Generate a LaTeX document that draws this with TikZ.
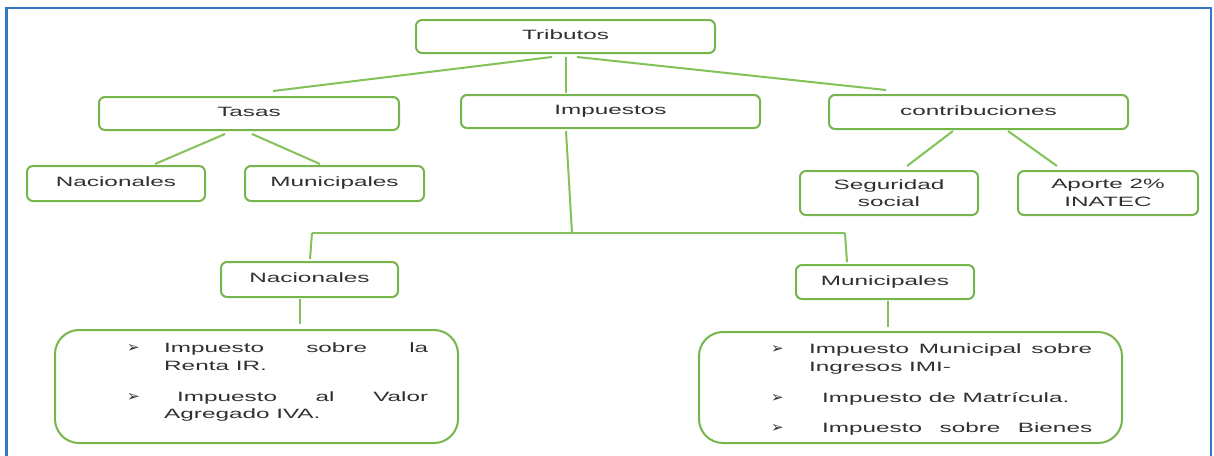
\documentclass[tikz,border=0pt]{standalone}
\usepackage{fontspec}
\newfontfamily\widesans[FakeStretch=1.8]{Liberation Sans}
\newfontfamily\dejavu{DejaVu Sans}
\usetikzlibrary{calc}
\definecolor{boxgreen}{RGB}{118,180,76}
\definecolor{linegreen}{RGB}{130,194,88}
\definecolor{frameblue}{RGB}{52,120,196}
\definecolor{txt}{RGB}{48,48,48}
\newcommand{\bul}{{\dejavu\fontsize{15}{15}\selectfont ➢}}
\begin{document}
\begin{tikzpicture}[x=1pt,y=-1pt,
  every node/.style={inner sep=0pt},
  tbox/.style={draw=boxgreen, line width=2pt, rounded corners=6pt, fill=white, text=txt,
    font=\widesans\fontsize{13.5}{17.5}\selectfont, align=center},
  onel/.style={text height=10pt, text depth=4pt},
  bigbox/.style={draw=boxgreen, line width=2pt, rounded corners=24pt},
  listtxt/.style={text=txt, font=\widesans\fontsize{13.5}{17.5}\selectfont, align=left},
  conn/.style={draw=linegreen, line width=2pt},
  frameline/.style={draw=frameblue, line width=2.5pt}]
\useasboundingbox (0,0) rectangle (1214,455);
\draw[frameline] (6.5,456) -- (6.5,8) -- (1211,8) -- (1211,456);

% top level
\node[tbox, onel, minimum width=299pt, minimum height=33pt] (trib) at (565.5,36.5) {Tributos};
\node[tbox, onel, minimum width=300pt, minimum height=33pt] (tasas) at (249,113.5) {Tasas};
\node[tbox, onel, minimum width=299pt, minimum height=33pt] (imp) at (610.5,111.5) {Impuestos};
\node[tbox, onel, minimum width=299pt, minimum height=34pt] (contrib) at (978.5,112) {contribuciones};

% second level
\node[tbox, onel, minimum width=178pt, minimum height=35pt] (tnac) at (116,183.5) {Nacionales};
\node[tbox, onel, minimum width=179pt, minimum height=35pt] (tmun) at (334.5,183.5) {Municipales};
\node[tbox, minimum width=178pt, minimum height=44pt] (seg) at (889,193) {Seguridad\\social};
\node[tbox, minimum width=180pt, minimum height=44pt] (apo) at (1108,193) {Aporte 2\%\\INATEC};
\node[tbox, onel, minimum width=177pt, minimum height=35pt] (inac) at (309.5,279.5) {Nacionales};
\node[tbox, onel, minimum width=178pt, minimum height=34pt] (imun) at (885,282) {Municipales};

% bottom boxes
\node[bigbox, minimum width=403pt, minimum height=113pt] (natbox) at (256.5,386.5) {};
\node[bigbox, minimum width=423pt, minimum height=111pt] (munbox) at (910.5,387.5) {};

\node[listtxt, anchor=north west] (natlist) at (127,343) {%
\makebox[37pt][l]{\bul}\makebox[264pt][s]{Impuesto sobre la}\\
\hspace*{37pt}Renta IR.\\[13.5pt]
\makebox[37pt][l]{\bul}\hspace*{13pt}\makebox[251pt][s]{Impuesto al Valor}\\
\hspace*{37pt}Agregado IVA.};

\node[listtxt, anchor=north west] (munlist) at (771,344) {%
\makebox[38pt][l]{\bul}\makebox[283pt][s]{Impuesto Municipal sobre}\\
\hspace*{38pt}Ingresos IMI-\\[13.5pt]
\makebox[38pt][l]{\bul}\hspace*{13pt}Impuesto de Matrícula.\\[12.5pt]
\makebox[38pt][l]{\bul}\hspace*{13pt}\makebox[270pt][s]{Impuesto sobre Bienes}};

% connectors
\coordinate (hub) at (572,233);
\coordinate (hl) at (312,233);
\coordinate (hr) at (845,233);
\draw[conn] ($(trib.south)+(-13.5,3)$) -- ($(tasas.north)+(24,-5)$);
\draw[conn] ($(trib.south)+(0.5,3)$) -- ($(imp.north)+(-44.5,-1)$);
\draw[conn] ($(trib.south)+(11.5,3)$) -- ($(contrib.north)+(-92.5,-4)$);
\draw[conn] ($(tasas.south)+(-24,3)$) -- ($(tnac.north)+(39,-1)$);
\draw[conn] ($(tasas.south)+(3,3)$) -- ($(tmun.north)+(-14.5,-1)$);
\draw[conn] ($(contrib.south)+(-25.5,1)$) -- ($(seg.north)+(18,-4)$);
\draw[conn] ($(contrib.south)+(29.5,1)$) -- ($(apo.north)+(-51,-4)$);
\draw[conn] ($(imp.south)+(-44.5,2)$) -- (hub);
\draw[conn] (hl) -- (hr);
\draw[conn] (hl) -- ($(inac.north)+(0.5,-2)$);
\draw[conn] (hr) -- ($(imun.north)+(-38,-2)$);
\draw[conn] ($(inac.south)+(-9.5,1)$) -- ($(natbox.north)+(43.5,-5)$);
\draw[conn] ($(imun.south)+(3,1)$) -- ($(munbox.north)+(-22.5,-4)$);
\end{tikzpicture}
\end{document}
